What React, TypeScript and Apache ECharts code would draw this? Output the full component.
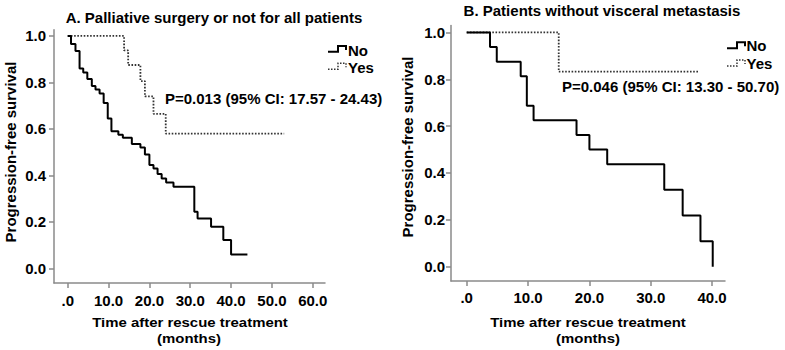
import React, { useEffect, useRef } from "react";
import * as echarts from "echarts";

// Panel A: Palliative surgery or not for all patients
const timesNoA = [0, 0.8, 1.9, 2.9, 3.8, 4.8, 5.9, 6.8, 7.8, 8.8, 9.8, 10.7, 12.4, 13.5, 15.7, 17.8, 18.9, 20, 21, 22, 23, 24.1, 25.9, 31, 31.8, 35.1, 38.1, 40, 44];
const survNoA = [1, 0.965, 0.935, 0.86, 0.843, 0.815, 0.785, 0.77, 0.752, 0.712, 0.645, 0.59, 0.575, 0.562, 0.535, 0.52, 0.49, 0.445, 0.43, 0.406, 0.387, 0.369, 0.351, 0.244, 0.215, 0.179, 0.122, 0.06, 0.06];
const timesYesA = [0, 13.8, 14.8, 17.8, 18.9, 21, 24, 53];
const survYesA = [1, 0.938, 0.875, 0.806, 0.74, 0.665, 0.58, 0.58];

// Panel B: Patients without visceral metastasis
const timesNoB = [0, 3.8, 4.9, 8.8, 9.8, 10.9, 17.9, 20, 22.9, 32.2, 35.2, 38.1, 40.1];
const survNoB = [1, 0.9375, 0.875, 0.8125, 0.6875, 0.625, 0.5625, 0.5, 0.4375, 0.328, 0.219, 0.109, 0];
const timesYesB = [0, 15, 37.9];
const survYesB = [1, 0.833, 0.833];

const xTicksA = [0, 10, 20, 30, 40, 50, 60];
const xTicksB = [0, 10, 20, 30, 40];
const yTicks = [0, 0.2, 0.4, 0.6, 0.8, 1.0];

const titleA = "A. Palliative surgery or not for all patients";
const titleB = "B. Patients without visceral metastasis";
const pTextA = "P=0.013 (95% CI: 17.57 - 24.43)";
const pTextB = "P=0.046 (95% CI: 13.30 - 50.70)";
const legendNames = ["No", "Yes"];
const xName1 = "Time after rescue treatment";
const xName2 = "(months)";
const yName = "Progression-free survival";

const FONT = '"Liberation Sans", Arial, sans-serif';
const AXIS_COLOR = "#8a8a8a";

const pairs = (t: number[], s: number[]) => t.map((v, i) => [v, s[i]]);
const xFmt = (v: number) => (v === 0 ? ".0" : v.toFixed(1));

function xAxisCfg(gridIndex: number, min: number, max: number, ticks: number[], margin: number) {
  return {
    type: "value",
    gridIndex,
    min,
    max,
    splitLine: { show: false },
    axisLine: { show: true, onZero: false, lineStyle: { color: AXIS_COLOR, width: 1.5 } },
    axisTick: { show: true, customValues: ticks, length: 5, lineStyle: { color: AXIS_COLOR, width: 1.5 } },
    axisLabel: {
      customValues: ticks,
      formatter: xFmt,
      color: "#000",
      fontWeight: "bold",
      fontSize: 15,
      fontFamily: FONT,
      margin,
    },
  };
}

function yAxisCfg(gridIndex: number, min: number, max: number, margin: number) {
  return {
    type: "value",
    gridIndex,
    min,
    max,
    splitLine: { show: false },
    axisLine: { show: true, onZero: false, lineStyle: { color: AXIS_COLOR, width: 1.5 } },
    axisTick: { show: true, customValues: yTicks, length: 5, lineStyle: { color: AXIS_COLOR, width: 1.5 } },
    axisLabel: {
      customValues: yTicks,
      formatter: (v: number) => v.toFixed(1),
      color: "#000",
      fontWeight: "bold",
      fontSize: 15,
      fontFamily: FONT,
      margin,
    },
  };
}

function txt(text: string, x: number, y: number, align = "center", rotation = 0, size = 15, scaleX = 1) {
  return {
    type: "text",
    x,
    y,
    rotation,
    scaleX,
    style: {
      text,
      fill: "#000",
      fontSize: size,
      fontWeight: "bold",
      fontFamily: FONT,
      align,
      verticalAlign: "middle",
      textAlign: align,
      textVerticalAlign: "middle",
    },
  };
}

function legendIcon(x0: number, yb: number, yt: number, ym: number, dotted: boolean) {
  return {
    type: "polyline",
    shape: { points: [[x0, yb], [x0 + 10, yb], [x0 + 10, yt], [x0 + 18, yt], [x0 + 18, ym]] },
    style: {
      stroke: dotted ? "#333" : "#000",
      lineWidth: dotted ? 1.5 : 2,
      lineDash: dotted ? [1.5, 1.5] : null,
      fill: null,
    },
  };
}

export default function App() {
  const ref = useRef<HTMLDivElement>(null);
  useEffect(() => {
    if (!ref.current) return;
    const chart = echarts.init(ref.current, null, { renderer: "svg" });
    const solid = { color: "#000", width: 2, type: "solid" };
    const dotted = { color: "#333", width: 1.8, type: [1.6, 1.6] };
    chart.setOption({
      animation: false,
      backgroundColor: "#fff",
      grid: [
        { left: 54, top: 29.7, width: 271, height: 253.3, containLabel: false },
        { left: 451, top: 25.4, width: 274, height: 255.6, containLabel: false },
      ],
      xAxis: [
        xAxisCfg(0, -3.36, 63, xTicksA, 10),
        xAxisCfg(1, -2.56, 42.1, xTicksB, 9),
      ],
      yAxis: [
        yAxisCfg(0, -0.063, 1.027, 8),
        yAxisCfg(1, -0.061, 1.03, 6),
      ],
      series: [
        { name: "Yes", type: "line", xAxisIndex: 0, yAxisIndex: 0, step: "end", symbol: "none", data: pairs(timesYesA, survYesA), lineStyle: dotted, z: 2 },
        { name: "No", type: "line", xAxisIndex: 0, yAxisIndex: 0, step: "end", symbol: "none", data: pairs(timesNoA, survNoA), lineStyle: solid, z: 3 },
        { name: "Yes", type: "line", xAxisIndex: 1, yAxisIndex: 1, step: "end", symbol: "none", data: pairs(timesYesB, survYesB), lineStyle: dotted, z: 2 },
        { name: "No", type: "line", xAxisIndex: 1, yAxisIndex: 1, step: "end", symbol: "none", data: pairs(timesNoB, survNoB), lineStyle: solid, z: 3 },
      ],
      graphic: [
        txt(titleA, 214, 17),
        txt(titleB, 602, 10),
        txt(pTextA, 165, 98, "left"),
        txt(pTextB, 562, 86, "left"),
        txt(xName1, 190, 322.5, "center", 0, 13, 1.15),
        txt(xName2, 189, 338.5, "center", 0, 13, 1.15),
        txt(xName1, 588, 322.5, "center", 0, 13, 1.15),
        txt(xName2, 588, 338, "center", 0, 13, 1.15),
        txt(yName, 10, 152, "center", Math.PI / 2),
        txt(yName, 407, 147, "center", Math.PI / 2),
        legendIcon(328, 51.7, 46, 50, false),
        txt(legendNames[0], 348, 50, "left"),
        legendIcon(328, 69.3, 63.3, 67.3, true),
        txt(legendNames[1], 348, 67.7, "left"),
        legendIcon(727, 48.3, 42.3, 46.3, false),
        txt(legendNames[0], 746.5, 45.7, "left"),
        legendIcon(727, 66, 60, 64, true),
        txt(legendNames[1], 746.5, 63.3, "left"),
      ],
    });
    return () => chart.dispose();
  }, []);
  return (
    <div
      ref={ref}
      style={{ position: "absolute", left: 0, top: 0, width: 785, height: 350, background: "#fff" }}
    />
  );
}
